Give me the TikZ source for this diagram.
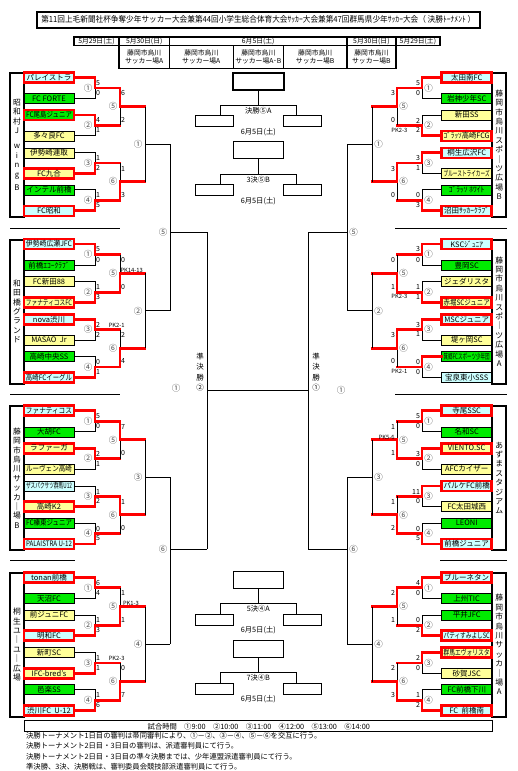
\documentclass[tikz,border=0pt]{standalone}
\usepackage{graphicx}
\usepackage{fontspec}
\setmainfont{Noto Sans CJK JP}
\usetikzlibrary{calc,positioning}
\definecolor{tmcyan}{RGB}{204,255,255}
\definecolor{tmgreen}{RGB}{0,235,0}
\definecolor{tmyellow}{RGB}{255,255,153}
\definecolor{tmred}{RGB}{255,0,0}

% squeeze long team names into the box
\newsavebox\tmnamebox
\newcommand\fitname[1]{\sbox\tmnamebox{#1}%
  \ifdim\wd\tmnamebox>46pt\resizebox{46pt}{\height}{#1}\else\usebox\tmnamebox\fi}

% one match: top in, bottom in, column, next column, name, winner (0/1/2)
\newcommand\tie[6]{%
  \coordinate (#5m) at ($(#1)!.5!(#2)$);
  \coordinate (#5t) at (#1 -| #3);
  \coordinate (#5b) at (#2 -| #3);
  \coordinate (#5c) at (#5m -| #3);
  \coordinate (#5) at (#5m -| #4);
  \ifcase#6\relax
    \draw[tmline] (#1) -- (#5t) -- (#5b) -- (#2) (#5c) -- (#5);
  \or
    \draw[tmline] (#2) -- (#5b) -- (#5c);
    \draw[tmwin] (#1) -- (#5t) -- (#5c) -- (#5);
  \or
    \draw[tmline] (#1) -- (#5t) -- (#5c);
    \draw[tmwin] (#2) -- (#5b) -- (#5c) -- (#5);
  \fi}
% same, output at a given y
\newcommand\tiey[6]{%
  \coordinate (#5m) at (0,#6);
  \coordinate (#5t) at (#1 -| #3);
  \coordinate (#5b) at (#2 -| #3);
  \coordinate (#5c) at (#5m -| #3);
  \coordinate (#5) at (#5m -| #4);
  \draw[tmline] (#1) -- (#5t) -- (#5b) -- (#2) (#5c) -- (#5);}
% match number and scores, left and right half
\newcommand\scL[4]{%
  \node[tmnum] at ([xshift=-7pt]#1c) {#2};
  \node[tmsc,anchor=west] at ([xshift=1pt,yshift=-5.5pt]#1t) {#3};
  \node[tmsc,anchor=west] at ([xshift=1pt,yshift=5.5pt]#1b) {#4};}
\newcommand\scR[4]{%
  \node[tmnum] at ([xshift=6.5pt]#1c) {#2};
  \node[tmsc,anchor=east] at ([xshift=-1.8pt,yshift=-5.5pt]#1t) {#3};
  \node[tmsc,anchor=east] at ([xshift=-1.8pt,yshift=5.5pt]#1b) {#4};}
% placing box in the middle
\newcommand\kobox[4]{%
  \node[draw,line width=#4,minimum width=50.6pt,minimum height=17pt,inner sep=0pt] (#1) at (258.3,{#2+8.5}) {};
  \coordinate (#1j) at (258.3,{#2+32.3});
  \coordinate (#1l) at (220,{#2+32.3});
  \coordinate (#1r) at (296,{#2+32.3});
  \node[tmslot] (#1a) at (214.2,{#2+48.5}) {};
  \node[tmslot] (#1b) at (302.5,{#2+48.5}) {};
  \draw[tmline] (#1.south) -- (#1j);
  \draw[tmline] (#1l |- #1a.north) -- (#1l) -- (#1r) -- (#1r |- #1b.north);
  \node[tmlab] at (258.3,{#2+38}) {#3};
  \node[tmlab] at (258.3,{#2+59}) {6月5日(土)};}

\begin{document}
\begin{tikzpicture}[x=1pt,y=-1pt,
  tmteam/.style={draw,line width=0.6pt,minimum width=50pt,minimum height=10pt,inner sep=0pt,
    font=\fontsize{7.5}{8}\selectfont},
  tmwon/.style={draw=tmred,line width=2.6pt},
  tmven/.style={draw,line width=2pt,minimum width=14.5pt,inner sep=0pt,align=center,
    font=\fontsize{7.8}{9.4}\selectfont},
  tmhead/.style={draw,line width=1.6pt,inner sep=0pt,align=center,font=\fontsize{6.8}{7.9}\selectfont},
  tmline/.style={line width=0.8pt},
  tmwin/.style={draw=tmred,line width=2.8pt,line cap=rect},
  tmnum/.style={inner sep=0pt,font=\fontsize{8.5}{9}\selectfont,text=black!70},
  tmsc/.style={inner sep=0pt,font=\fontsize{7}{7.5}\selectfont},
  tmpk/.style={inner sep=0pt,font=\fontsize{5.8}{6}\selectfont},
  tmlab/.style={inner sep=0pt,font=\fontsize{7.3}{8}\selectfont},
  tmslot/.style={draw,line width=0.8pt,minimum width=38.3pt,minimum height=11pt,inner sep=0pt},
  tmnote/.style={anchor=west,inner sep=0pt,font=\fontsize{7.3}{8}\selectfont}
]
  \useasboundingbox (0,0) rectangle (517,771);
  % Headers
  \node[draw,line width=1.8pt,minimum width=443pt,minimum height=16pt,inner sep=0pt] (title) at (258.3,19.7)
    {\resizebox{434pt}{\height}{\fontsize{8.3}{9}\selectfont 第11回上毛新聞社杯争奪少年サッカー大会兼第44回小学生総合体育大会ｻｯｶｰ大会兼第47回群馬県少年ｻｯｶｰ大会（ 決勝ﾄｰﾅﾒﾝﾄ ）}};
  \node[tmhead,minimum width=45pt,minimum height=8.6pt] (hd1) at (96.5,41) {5月29日(土)};
  \node[tmhead,minimum width=50.3pt,minimum height=8.6pt] (hd2) at (144.2,41) {5月30日(日)};
  \node[tmhead,minimum width=177.7pt,minimum height=8.6pt] (hd3) at (258.2,41) {6月5日(土)};
  \node[tmhead,minimum width=48.7pt,minimum height=8.6pt] (hd4) at (371.4,41) {5月30日(日)};
  \node[tmhead,minimum width=44.3pt,minimum height=8.6pt] (hd5) at (417.9,41) {5月29日(土)};
  \node[tmhead,minimum width=50.3pt,minimum height=23pt] (vn1) at (144.2,56.8) {藤岡市烏川\\サッカー場A};
  \node[tmhead,minimum width=64pt,minimum height=23pt] (vn2) at (201.3,56.8) {藤岡市烏川\\サッカー場A};
  \node[tmhead,minimum width=50pt,minimum height=23pt] (vn3) at (258.3,56.8) {藤岡市烏川\\サッカー場A･B};
  \node[tmhead,minimum width=63.7pt,minimum height=23pt] (vn4) at (315.2,56.8) {藤岡市烏川\\サッカー場B};
  \node[tmhead,minimum width=48.7pt,minimum height=23pt] (vn5) at (371.4,56.8) {藤岡市烏川\\サッカー場B};

  \coordinate (xL1) at (95,0);  \coordinate (xL2) at (120,0); \coordinate (xL3) at (145,0);
  \coordinate (xL4) at (170,0); \coordinate (xL5) at (207,0);
  \coordinate (xR1) at (422,0); \coordinate (xR2) at (397,0); \coordinate (xR3) at (372,0);
  \coordinate (xR4) at (347,0); \coordinate (xR5) at (308,0);

  % Left 1
  \node[tmven,minimum height=144pt] (L1v) at (17,144.8) {昭\\和\\村\\J\\[6pt]w\\i\\n\\g\\[4pt]B};
  \node[tmteam,fill=tmcyan,tmwon] (L1a) at (49,77.3) {\fitname{パレイストラ}};
  \node[tmteam,fill=tmgreen] (L1b) at (49,98.6) {\fitname{FC FORTE}};
  \node[tmteam,fill=tmgreen,tmwon] (L1c) at (49,115.0) {\fitname{FC尾島ジュニア}};
  \node[tmteam,fill=tmyellow] (L1d) at (49,135.8) {\fitname{多々良FC}};
  \node[tmteam,fill=tmyellow] (L1e) at (49,152.8) {\fitname{伊勢崎連取}};
  \node[tmteam,fill=tmyellow,tmwon] (L1f) at (49,173.3) {\fitname{FC九合}};
  \node[tmteam,fill=tmgreen] (L1g) at (49,189.8) {\fitname{インテル前橋}};
  \node[tmteam,fill=tmcyan,tmwon] (L1h) at (49,210.8) {\fitname{FC昭和}};
  \tie{L1a.east}{L1b.east}{xL1}{xL2}{L1m1}{1} \scL{L1m1}{①}{5}{0}
  \tie{L1c.east}{L1d.east}{xL1}{xL2}{L1m2}{1} \scL{L1m2}{②}{4}{1}
  \tie{L1e.east}{L1f.east}{xL1}{xL2}{L1m3}{2} \scL{L1m3}{③}{1}{2}
  \tie{L1g.east}{L1h.east}{xL1}{xL2}{L1m4}{2} \scL{L1m4}{④}{1}{5}
  \tie{L1m1}{L1m2}{xL2}{xL3}{L1m5}{1} \scL{L1m5}{⑤}{6}{2}
  \tie{L1m3}{L1m4}{xL2}{xL3}{L1m6}{2} \scL{L1m6}{⑥}{1}{3}
  \tie{L1m5}{L1m6}{xL3}{xL4}{L1q}{0} \scL{L1q}{①}{}{}

  % Left 2
  \node[tmven,minimum height=144pt] (L2v) at (17,311.5) {和\\田\\橋\\グ\\ラ\\ン\\ド};
  \node[tmteam,fill=tmcyan,tmwon] (L2a) at (49,244.0) {\fitname{伊勢崎広瀬JFC}};
  \node[tmteam,fill=tmgreen] (L2b) at (49,265.3) {\fitname{前橋ｴｺｰｸﾗﾌﾞ}};
  \node[tmteam,fill=tmyellow] (L2c) at (49,281.7) {\fitname{FC新田88}};
  \node[tmteam,fill=tmyellow,tmwon] (L2d) at (49,302.5) {\fitname{ファナティコスFC}};
  \node[tmteam,fill=tmcyan,tmwon] (L2e) at (49,319.5) {\fitname{nova渋川}};
  \node[tmteam,fill=tmyellow] (L2f) at (49,340.0) {\fitname{MASAO\ \ Jr}};
  \node[tmteam,fill=tmgreen] (L2g) at (49,356.5) {\fitname{高崎中央SS}};
  \node[tmteam,fill=tmcyan,tmwon] (L2h) at (49,377.5) {\fitname{高崎FCイーグル}};
  \tie{L2a.east}{L2b.east}{xL1}{xL2}{L2m1}{1} \scL{L2m1}{①}{5}{0}
  \tie{L2c.east}{L2d.east}{xL1}{xL2}{L2m2}{2} \scL{L2m2}{②}{1}{3}
  \tie{L2e.east}{L2f.east}{xL1}{xL2}{L2m3}{1} \scL{L2m3}{③}{2}{2}
  \tie{L2g.east}{L2h.east}{xL1}{xL2}{L2m4}{2} \scL{L2m4}{④}{0}{1}
  \tie{L2m1}{L2m2}{xL2}{xL3}{L2m5}{2} \scL{L2m5}{⑤}{0}{0}
  \tie{L2m3}{L2m4}{xL2}{xL3}{L2m6}{2} \scL{L2m6}{⑥}{2}{4}
  \tie{L2m5}{L2m6}{xL3}{xL4}{L2q}{0} \scL{L2q}{②}{}{}
  \node[tmpk] at ([xshift=-3.3pt,yshift=4.7pt]L2m3) {PK2-1};
  \node[tmpk] at ([xshift=-13.3pt,yshift=3pt]L2m5) {PK14-13};

  % Left 3
  \node[tmven,minimum height=144pt] (L3v) at (17,478) {藤\\岡\\市\\烏\\川\\サ\\ッ\\カ\\｜\\場\\B};
  \node[tmteam,fill=tmcyan,tmwon] (L3a) at (49,410.5) {\fitname{ファナティコス}};
  \node[tmteam,fill=tmgreen] (L3b) at (49,431.8) {\fitname{大胡FC}};
  \node[tmteam,fill=tmyellow,tmwon] (L3c) at (49,448.2) {\fitname{ラファーガ}};
  \node[tmteam,fill=tmyellow] (L3d) at (49,469.0) {\fitname{ルーヴェン高崎}};
  \node[tmteam,fill=tmcyan] (L3e) at (49,486.0) {\fitname{ザスパクサツ群馬U12}};
  \node[tmteam,fill=tmyellow,tmwon] (L3f) at (49,506.5) {\fitname{高崎K2}};
  \node[tmteam,fill=tmgreen] (L3g) at (49,523.0) {\fitname{FC榛東ジュニア}};
  \node[tmteam,fill=tmcyan,tmwon] (L3h) at (49,544.0) {\fitname{PALAISTRA U-12}};
  \tie{L3a.east}{L3b.east}{xL1}{xL2}{L3m1}{1} \scL{L3m1}{①}{5}{0}
  \tie{L3c.east}{L3d.east}{xL1}{xL2}{L3m2}{1} \scL{L3m2}{②}{2}{1}
  \tie{L3e.east}{L3f.east}{xL1}{xL2}{L3m3}{2} \scL{L3m3}{③}{1}{2}
  \tie{L3g.east}{L3h.east}{xL1}{xL2}{L3m4}{2} \scL{L3m4}{④}{0}{5}
  \tie{L3m1}{L3m2}{xL2}{xL3}{L3m5}{1} \scL{L3m5}{⑤}{7}{0}
  \tie{L3m3}{L3m4}{xL2}{xL3}{L3m6}{1} \scL{L3m6}{⑥}{1}{0}
  \tie{L3m5}{L3m6}{xL3}{xL4}{L3q}{0} \scL{L3q}{③}{}{}

  % Left 4
  \node[tmven,minimum height=144pt] (L4v) at (17,644.7) {桐\\生\\ユ\\｜\\ユ\\｜\\広\\場};
  \node[tmteam,fill=tmcyan,tmwon] (L4a) at (49,577.2) {\fitname{tonan前橋}};
  \node[tmteam,fill=tmgreen] (L4b) at (49,598.5) {\fitname{天沼FC}};
  \node[tmteam,fill=tmyellow] (L4c) at (49,614.9) {\fitname{前ジュニFC}};
  \node[tmteam,fill=tmcyan,tmwon] (L4d) at (49,635.7) {\fitname{明和FC}};
  \node[tmteam,fill=tmyellow] (L4e) at (49,652.7) {\fitname{新町SC}};
  \node[tmteam,fill=tmyellow,tmwon] (L4f) at (49,673.2) {\fitname{IFC-bred's}};
  \node[tmteam,fill=tmgreen] (L4g) at (49,689.7) {\fitname{邑楽SS}};
  \node[tmteam,fill=tmcyan,tmwon] (L4h) at (49,710.7) {\fitname{渋川FC\ \ U-12}};
  \tie{L4a.east}{L4b.east}{xL1}{xL2}{L4m1}{1} \scL{L4m1}{①}{6}{4}
  \tie{L4c.east}{L4d.east}{xL1}{xL2}{L4m2}{2} \scL{L4m2}{②}{1}{3}
  \tie{L4e.east}{L4f.east}{xL1}{xL2}{L4m3}{2} \scL{L4m3}{③}{1}{1}
  \tie{L4g.east}{L4h.east}{xL1}{xL2}{L4m4}{2} \scL{L4m4}{④}{1}{6}
  \tie{L4m1}{L4m2}{xL2}{xL3}{L4m5}{2} \scL{L4m5}{⑤}{1}{1}
  \tie{L4m3}{L4m4}{xL2}{xL3}{L4m6}{2} \scL{L4m6}{⑥}{0}{7}
  \tie{L4m5}{L4m6}{xL3}{xL4}{L4q}{0} \scL{L4q}{④}{}{}
  \node[tmpk] at ([xshift=-3.3pt,yshift=4.6pt]L4m3) {PK2-3};
  \node[tmpk] at ([xshift=-14pt,yshift=3pt]L4m5) {PK1-3};

  % Right 1
  \node[tmven,minimum height=144pt] (R1v) at (499.2,144.8) {藤\\岡\\市\\烏\\川\\ス\\ポ\\｜\\ツ\\広\\場\\B};
  \node[tmteam,fill=tmcyan,tmwon] (R1a) at (466.7,77.3) {\fitname{太田南FC}};
  \node[tmteam,fill=tmgreen] (R1b) at (466.7,98.6) {\fitname{岩神少年SC}};
  \node[tmteam,fill=tmyellow] (R1c) at (466.7,115.0) {\fitname{新田SS}};
  \node[tmteam,fill=tmyellow,tmwon] (R1d) at (466.7,135.8) {\fitname{ｺﾞﾗｯｿ高崎FCG}};
  \node[tmteam,fill=tmcyan,tmwon] (R1e) at (466.7,152.8) {\fitname{桐生広沢FC}};
  \node[tmteam,fill=tmyellow] (R1f) at (466.7,173.3) {\fitname{ブルーストライカーズ}};
  \node[tmteam,fill=tmgreen] (R1g) at (466.7,189.8) {\fitname{ｺﾞﾗｯｿ\ ﾎﾜｲﾄ}};
  \node[tmteam,fill=tmcyan,tmwon] (R1h) at (466.7,210.8) {\fitname{沼田ｻｯｶｰｸﾗﾌﾞ}};
  \tie{R1a.west}{R1b.west}{xR1}{xR2}{R1m1}{1} \scR{R1m1}{①}{5}{0}
  \tie{R1c.west}{R1d.west}{xR1}{xR2}{R1m2}{2} \scR{R1m2}{②}{2}{2}
  \tie{R1e.west}{R1f.west}{xR1}{xR2}{R1m3}{1} \scR{R1m3}{③}{3}{1}
  \tie{R1g.west}{R1h.west}{xR1}{xR2}{R1m4}{2} \scR{R1m4}{④}{0}{3}
  \tie{R1m1}{R1m2}{xR2}{xR3}{R1m5}{1} \scR{R1m5}{⑤}{3}{0}
  \tie{R1m3}{R1m4}{xR2}{xR3}{R1m6}{1} \scR{R1m6}{⑥}{3}{0}
  \tie{R1m5}{R1m6}{xR3}{xR4}{R1q}{0} \scR{R1q}{①}{}{}
  \node[tmpk] at ([xshift=2.3pt,yshift=-5pt]R1m2) {PK2-3};

  % Right 2
  \node[tmven,minimum height=144pt] (R2v) at (499.2,311.5) {藤\\岡\\市\\烏\\川\\ス\\ポ\\｜\\ツ\\広\\場\\A};
  \node[tmteam,fill=tmcyan,tmwon] (R2a) at (466.7,244.0) {\fitname{KSCｼﾞｭﾆｱ}};
  \node[tmteam,fill=tmgreen] (R2b) at (466.7,265.3) {\fitname{豊岡SC}};
  \node[tmteam,fill=tmyellow] (R2c) at (466.7,281.7) {\fitname{ジェダリスタ}};
  \node[tmteam,fill=tmyellow,tmwon] (R2d) at (466.7,302.5) {\fitname{赤堀SCジュニア}};
  \node[tmteam,fill=tmcyan,tmwon] (R2e) at (466.7,319.5) {\fitname{MSCジュニア}};
  \node[tmteam,fill=tmyellow] (R2f) at (466.7,340.0) {\fitname{堤ヶ岡SC}};
  \node[tmteam,fill=tmgreen] (R2g) at (466.7,356.5) {\fitname{箕郷FCスポーツ少年団}};
  \node[tmteam,fill=tmcyan] (R2h) at (466.7,377.5) {\fitname{宝泉東小SSS}};
  \tie{R2a.west}{R2b.west}{xR1}{xR2}{R2m1}{1} \scR{R2m1}{①}{3}{0}
  \tie{R2c.west}{R2d.west}{xR1}{xR2}{R2m2}{2} \scR{R2m2}{②}{1}{1}
  \tie{R2e.west}{R2f.west}{xR1}{xR2}{R2m3}{1} \scR{R2m3}{③}{3}{1}
  \tie{R2g.west}{R2h.west}{xR1}{xR2}{R2m4}{1} \scR{R2m4}{④}{0}{0}
  \tie{R2m1}{R2m2}{xR2}{xR3}{R2m5}{2} \scR{R2m5}{⑤}{0}{1}
  \tie{R2m3}{R2m4}{xR2}{xR3}{R2m6}{1} \scR{R2m6}{⑥}{3}{0}
  \tie{R2m5}{R2m6}{xR3}{xR4}{R2q}{0} \scR{R2q}{②}{}{}
  \node[tmpk] at ([xshift=2.3pt,yshift=-4.6pt]R2m2) {PK2-3};
  \node[tmpk] at ([xshift=2.3pt,yshift=-4.7pt]R2m4) {PK2-1};

  % Right 3
  \node[tmven,minimum height=144pt] (R3v) at (499.2,478) {あ\\ず\\ま\\ス\\タ\\ジ\\ア\\ム};
  \node[tmteam,fill=tmcyan,tmwon] (R3a) at (466.7,410.5) {\fitname{寺尾SSC}};
  \node[tmteam,fill=tmgreen] (R3b) at (466.7,431.8) {\fitname{名和SC}};
  \node[tmteam,fill=tmyellow,tmwon] (R3c) at (466.7,448.2) {\fitname{VIENTO.SC}};
  \node[tmteam,fill=tmyellow] (R3d) at (466.7,469.0) {\fitname{AFCカイザー}};
  \node[tmteam,fill=tmcyan,tmwon] (R3e) at (466.7,486.0) {\fitname{パルケFC前橋}};
  \node[tmteam,fill=tmyellow] (R3f) at (466.7,506.5) {\fitname{FC太田城西}};
  \node[tmteam,fill=tmgreen] (R3g) at (466.7,523.0) {\fitname{LEONI}};
  \node[tmteam,fill=tmcyan,tmwon] (R3h) at (466.7,544.0) {\fitname{前橋ジュニア}};
  \tie{R3a.west}{R3b.west}{xR1}{xR2}{R3m1}{1} \scR{R3m1}{①}{5}{0}
  \tie{R3c.west}{R3d.west}{xR1}{xR2}{R3m2}{1} \scR{R3m2}{②}{3}{0}
  \tie{R3e.west}{R3f.west}{xR1}{xR2}{R3m3}{1} \scR{R3m3}{③}{11}{0}
  \tie{R3g.west}{R3h.west}{xR1}{xR2}{R3m4}{2} \scR{R3m4}{④}{0}{5}
  \tie{R3m1}{R3m2}{xR2}{xR3}{R3m5}{2} \scR{R3m5}{⑤}{1}{1}
  \tie{R3m3}{R3m4}{xR2}{xR3}{R3m6}{2} \scR{R3m6}{⑥}{1}{2}
  \tie{R3m5}{R3m6}{xR3}{xR4}{R3q}{0} \scR{R3q}{③}{}{}
  \node[tmpk] at ([xshift=14.7pt,yshift=2.5pt]R3m5) {PK5-6};

  % Right 4
  \node[tmven,minimum height=144pt] (R4v) at (499.2,644.7) {藤\\岡\\市\\烏\\川\\サ\\ッ\\カ\\｜\\場\\A};
  \node[tmteam,fill=tmcyan,tmwon] (R4a) at (466.7,577.2) {\fitname{ブルーネタン}};
  \node[tmteam,fill=tmgreen] (R4b) at (466.7,598.5) {\fitname{上州TIC}};
  \node[tmteam,fill=tmgreen] (R4c) at (466.7,614.9) {\fitname{平井JFC}};
  \node[tmteam,fill=tmcyan,tmwon] (R4d) at (466.7,635.7) {\fitname{パティすみよしSC}};
  \node[tmteam,fill=tmyellow,tmwon] (R4e) at (466.7,652.7) {\fitname{群馬エヴォリスタ}};
  \node[tmteam,fill=tmyellow] (R4f) at (466.7,673.2) {\fitname{砂賀JSC}};
  \node[tmteam,fill=tmgreen] (R4g) at (466.7,689.7) {\fitname{FC前橋下川}};
  \node[tmteam,fill=tmcyan,tmwon] (R4h) at (466.7,710.7) {\fitname{FC\ \ 前橋南}};
  \tie{R4a.west}{R4b.west}{xR1}{xR2}{R4m1}{1} \scR{R4m1}{①}{4}{0}
  \tie{R4c.west}{R4d.west}{xR1}{xR2}{R4m2}{2} \scR{R4m2}{②}{0}{2}
  \tie{R4e.west}{R4f.west}{xR1}{xR2}{R4m3}{1} \scR{R4m3}{③}{2}{0}
  \tie{R4g.west}{R4h.west}{xR1}{xR2}{R4m4}{2} \scR{R4m4}{④}{1}{2}
  \tie{R4m1}{R4m2}{xR2}{xR3}{R4m5}{1} \scR{R4m5}{⑤}{2}{1}
  \tie{R4m3}{R4m4}{xR2}{xR3}{R4m6}{2} \scR{R4m6}{⑥}{2}{3}
  \tie{R4m5}{R4m6}{xR3}{xR4}{R4q}{0} \scR{R4q}{④}{}{}

  % Quarter and semi finals
  \tiey{L1q}{L2q}{xL4}{xL5}{Lm5}{232}   \scL{Lm5}{⑤}{}{}
  \tiey{L3q}{L4q}{xL4}{xL5}{Lm6}{549}   \scL{Lm6}{⑥}{}{}
  \tiey{R1q}{R2q}{xR4}{xR5}{Rm5}{232}   \scR{Rm5}{⑤}{}{}
  \tiey{R3q}{R4q}{xR4}{xR5}{Rm6}{549}   \scR{Rm6}{⑥}{}{}
  \tie{Lm5}{Lm6}{xL5}{xL5}{Lsf}{0}
  \tie{Rm5}{Rm6}{xR5}{xR5}{Rsf}{0}
  \draw[tmline] (Lsf) -- (Rsf);
  \node[tmnum] at (176,388) {①};
  \node[tmnum] at (341,390) {①};
  \node[tmlab,align=center,font=\fontsize{7.5}{10.5}\selectfont] (Lsft) at (200,372) {準\\決\\勝\\②};
  \node[tmlab,align=center,font=\fontsize{7.5}{10.5}\selectfont] (Rsft) at (316,372) {準\\決\\勝\\①};

  % Placing boxes
  \kobox{fin}{72.7}{決勝⑤A}{2pt}
  \kobox{thr}{141.7}{3決⑤B}{0.8pt}
  \kobox{fif}{571}{5決④A}{0.8pt}
  \kobox{sev}{640}{7決④B}{0.8pt}

  % Separators
  \draw[tmline] (10,228) -- (120,228) (10,394) -- (120,394) (10,560) -- (75,560);
  \draw[tmline] (395,228) -- (507,228) (395,394) -- (507,394) (440,560) -- (507,560);

  % Notes
  \node[draw,line width=1pt,minimum width=467.7pt,minimum height=10.7pt,inner sep=0pt,
    font=\fontsize{7.3}{8}\selectfont] (times) at (258.8,726.3)
    {試合時間　①9:00　②10:00　③11:00　④12:00　⑤13:00　⑥14:00};
  \node[tmnote] (n1) at (26,735.8) {決勝トーナメント1日目の審判は帯同審判により、①－②、③－④、⑤－⑥を交互に行う。};
  \node[tmnote] (n2) at (26,746) {決勝トーナメント2日目・3日目の審判は、派遣審判員にて行う。};
  \node[tmnote] (n3) at (26,756.3) {決勝トーナメント2日目・3日目の準々決勝までは、少年連盟派遣審判員にて行う。};
  \node[tmnote] (n4) at (26,766.3) {準決勝、3決、決勝戦は、審判委員会競技部派遣審判員にて行う。};
\end{tikzpicture}
\end{document}
